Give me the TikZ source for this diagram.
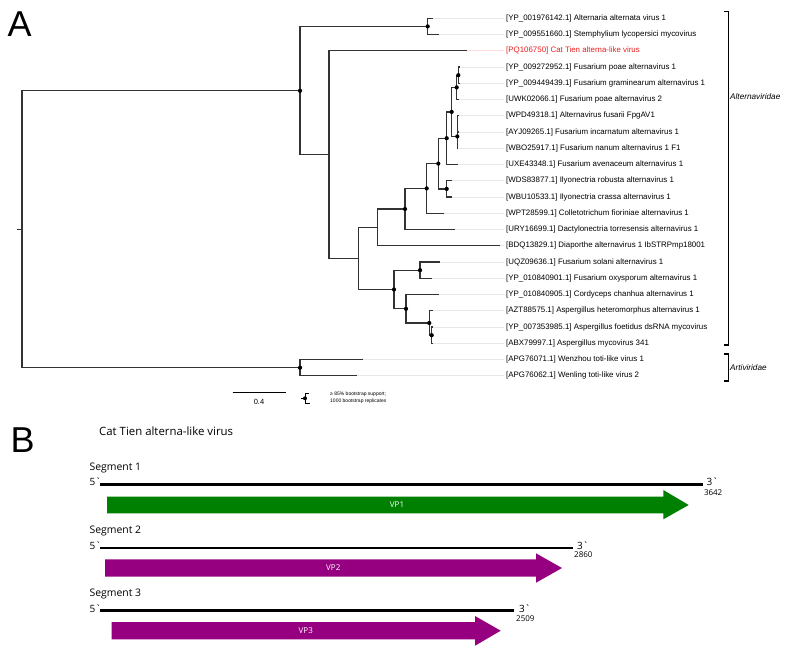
\documentclass[tikz,border=0pt]{standalone}
\usepackage{fontspec}
\setmainfont{Liberation Sans}
\newfontfamily\osans{Open Sans}
\definecolor{vpgreen}{RGB}{0,128,0}
\definecolor{vppurple}{RGB}{150,0,128}
\definecolor{labred}{RGB}{235,30,30}
\begin{document}
\begin{tikzpicture}[x=1pt,y=-1pt,
  br/.style={draw=black!80, line width=1.2pt},
  lead/.style={draw=black!9, line width=0.8pt, shorten >=2.5pt},
  lab/.style={anchor=west, inner sep=0pt, font=\fontsize{7.9}{9}\selectfont},
  bdot/.style={fill=black},
  segline/.style={draw=black, line width=2.7pt},
  seglab/.style={anchor=west, inner sep=0pt, font=\osans\fontsize{10.4}{12}\selectfont},
  endlab/.style={anchor=west, inner sep=0pt, font=\osans\fontsize{10}{12}\selectfont},
  numlab/.style={anchor=west, inner sep=0pt, font=\osans\fontsize{8}{10}\selectfont},
  vplab/.style={inner sep=0pt, text=white, font=\osans\fontsize{8}{10}\selectfont},
  famlab/.style={anchor=west, inner sep=0pt, font=\itshape\fontsize{8.2}{10}\selectfont},
  panel/.style={anchor=north west, inner sep=0pt, font=\fontsize{36}{40}\selectfont},
]
\useasboundingbox (0,0) rectangle (787,653);

% ---------- panel letters ----------
\node[panel] (pA) at (7.5,11.7) {A};
\node[panel] (pB) at (10.5,427.3) {B};

% ---------- tips ----------
\coordinate (t1) at (433,18.3);
\coordinate (t2) at (439,34.55);
\coordinate (t3) at (466.7,50.8);
\coordinate (t4) at (459.5,67.05);
\coordinate (t5) at (459.5,83.3);
\coordinate (t6) at (459.3,99.55);
\coordinate (t7) at (458,115.8);
\coordinate (t8) at (458,132.05);
\coordinate (t9) at (458,148.3);
\coordinate (t10) at (458.3,164.55);
\coordinate (t11) at (451.7,180.8);
\coordinate (t12) at (451.7,197.05);
\coordinate (t13) at (444,213.3);
\coordinate (t14) at (455,229.55);
\coordinate (t15) at (500,245.8);
\coordinate (t16) at (440,262.05);
\coordinate (t17) at (431.7,278.3);
\coordinate (t18) at (439,294.55);
\coordinate (t19) at (433,310.8);
\coordinate (t20) at (432.5,327.05);
\coordinate (t21) at (432.5,343.3);
\coordinate (t22) at (362.7,359.55);
\coordinate (t23) at (356.7,375.8);

% ---------- internal nodes ----------
\coordinate (root) at (22,229.2);
\coordinate (rstub) at (17,229.2);
\coordinate (nA) at (300,90.8);
\coordinate (nApg) at (300,367.7);
\coordinate (nB) at (427.7,26.4);
\coordinate (nC) at (329,154.6);
\coordinate (nD) at (358.7,258.4);
\coordinate (nE) at (377.7,227.4);
\coordinate (nG) at (405,209);
\coordinate (na) at (426.7,188.4);
\coordinate (nb) at (438.3,163.6);
\coordinate (nc) at (446.7,138.2);
\coordinate (nd) at (446.7,188.9);
\coordinate (ne) at (451.7,111.9);
\coordinate (nf) at (456.7,87.4);
\coordinate (ng) at (457.3,136.4);
\coordinate (ngi) at (457.5,124.2);
\coordinate (nh) at (458.3,75.2);
\coordinate (nF) at (394,289.5);
\coordinate (nH) at (420,270.2);
\coordinate (nI) at (406,308.8);
\coordinate (nJ) at (429.3,323);
\coordinate (nK) at (431.7,335.2);

% ---------- labels ----------
\foreach \i/\t in {
 1/{[YP\_001976142.1] Alternaria alternata virus 1},
 2/{[YP\_009551660.1] Stemphylium lycopersici mycovirus},
 4/{[YP\_009272952.1] Fusarium poae alternavirus 1},
 5/{[YP\_009449439.1] Fusarium graminearum alternavirus 1},
 6/{[UWK02066.1] Fusarium poae alternavirus 2},
 7/{[WPD49318.1] Alternavirus fusarii FpgAV1},
 8/{[AYJ09265.1] Fusarium incarnatum alternavirus 1},
 9/{[WBO25917.1] Fusarium nanum alternavirus 1 F1},
 10/{[UXE43348.1] Fusarium avenaceum alternavirus 1},
 11/{[WDS83877.1] Ilyonectria robusta alternavirus 1},
 12/{[WBU10533.1] Ilyonectria crassa alternavirus 1},
 13/{[WPT28599.1] Colletotrichum fioriniae alternavirus 1},
 14/{[URY16699.1] Dactylonectria torresensis alternavirus 1},
 15/{[BDQ13829.1] Diaporthe alternavirus 1 IbSTRPmp18001},
 16/{[UQZ09636.1] Fusarium solani alternavirus 1},
 17/{[YP\_010840901.1] Fusarium oxysporum alternavirus 1},
 18/{[YP\_010840905.1] Cordyceps chanhua alternavirus 1},
 19/{[AZT88575.1] Aspergillus heteromorphus alternavirus 1},
 20/{[YP\_007353985.1] Aspergillus foetidus dsRNA mycovirus},
 21/{[ABX79997.1] Aspergillus mycovirus 341},
 22/{[APG76071.1] Wenzhou toti-like virus 1},
 23/{[APG76062.1] Wenling toti-like virus 2}}
{
 \path (t\i) -- ++(0,0) coordinate (tmp);
 \node[lab] (l\i) at (506,0 |- tmp) {\t};
 \draw[lead] (t\i) -- (l\i.west);
}
\node[lab, text=labred] (l3) at (506,0 |- t3) {[PQ106750] Cat Tien alterna-like virus};
\draw[lead, draw=red!14] (t3) -- (l3.west);

% ---------- branches ----------
\draw[br] (root) -- (rstub);
\foreach \p/\c in {root/nA, root/nApg, nA/nB, nA/nC, nB/t1, nB/t2,
  nC/t3, nC/nD, nD/nE, nD/nF, nE/nG, nE/t15, nG/na, nG/t14,
  na/nb, na/t13, nb/nc, nb/nd, nd/t11, nd/t12, nc/ne, nc/t10,
  ne/nf, ne/ng, ng/ngi, ng/t9, ngi/t7, ngi/t8, nf/nh, nf/t6, nh/t4, nh/t5,
  nF/nH, nF/nI, nH/t16, nH/t17, nI/t18, nI/nJ, nJ/t19, nJ/nK, nK/t20, nK/t21,
  nApg/t22, nApg/t23}
  \draw[br] (\p) |- (\c);

\foreach \n in {nA, nApg, nB, nG, na, nb, nc, nd, ne, nf, ng, nh, nF, nH, nI, nJ, nK}
  \fill[bdot] (\n) circle[radius=2.1];

% ---------- family brackets ----------
\coordinate (b1t) at (728.3,11.7);
\coordinate (b1b) at (728.3,345);
\draw[line width=1.1pt] (724,11.7) -- (b1t) -- (b1b) -- (724,345);
\node[famlab] (fam1) at (730,96.5) {Alternaviridae};
\coordinate (b2t) at (728.3,354);
\coordinate (b2b) at (728.3,381);
\draw[line width=1.1pt] (724,354) -- (b2t) -- (b2b) -- (724,381);
\node[famlab] (fam2) at (730,367.5) {Artiviridae};

% ---------- scale bar and legend ----------
\coordinate (sb1) at (232.7,392.7);
\coordinate (sb2) at (285.7,392.7);
\draw[br, draw=black] (sb1) -- (sb2);
\node[inner sep=0pt, font=\fontsize{7.5}{9}\selectfont] (sbl) at (259,402.3) {0.4};
\coordinate (lg) at (305,398.3);
\draw[line width=1pt] (301,398.3) -- (lg);
\draw[line width=1pt] (308.5,393.3) -- (305,393.3) -- (305,403.3) -- (310,403.3);
\fill (lg) circle[radius=2];
\node[anchor=west, inner sep=0pt, font=\fontsize{5}{6}\selectfont] (lgt1) at (330,394.3) {≥ 85\% bootstrap support;};
\node[anchor=west, inner sep=0pt, font=\fontsize{5}{6}\selectfont] (lgt2) at (330,401.7) {1000 bootstrap replicates};

% ---------- panel B ----------
\node[anchor=west, inner sep=0pt, font=\osans\fontsize{11.4}{13}\selectfont] (title) at (99,431.7) {Cat Tien alterna-like virus};

% segment 1
\node[seglab] (sg1) at (89.5,468.3) {Segment 1};
\node[endlab] (f1) at (89.5,481.7) {5\symbol{96}};
\coordinate (s1a) at (99.5,484.5);
\coordinate (s1b) at (702.7,484.5);
\draw[segline] (s1a) -- (s1b);
\node[endlab] (e1) at (706.5,482.2) {3\symbol{96}};
\node[numlab] (n1) at (703.8,492.3) {3642};
\fill[vpgreen] (107,496.7) -- (663.3,496.7) -- (663.3,490) -- (688.7,505) -- (663.3,519.3) -- (663.3,513.3) -- (107,513.3) -- cycle;
\node[vplab] (vp1) at (397,505) {VP1};

% segment 2
\node[seglab] (sg2) at (89.5,531) {Segment 2};
\node[endlab] (f2) at (89.5,545.5) {5\symbol{96}};
\coordinate (s2a) at (99.5,548);
\coordinate (s2b) at (572.7,548);
\draw[segline] (s2a) -- (s2b);
\node[endlab] (e2) at (577,545.7) {3\symbol{96}};
\node[numlab] (n2) at (574,555) {2860};
\fill[vppurple] (105,559.3) -- (536,559.3) -- (536,553.3) -- (562,568) -- (536,582.7) -- (536,576.7) -- (105,576.7) -- cycle;
\node[vplab] (vp2) at (333.3,568) {VP2};

% segment 3
\node[seglab] (sg3) at (89.5,594) {Segment 3};
\node[endlab] (f3) at (89.5,608.3) {5\symbol{96}};
\coordinate (s3a) at (99.5,610.7);
\coordinate (s3b) at (514.3,610.7);
\draw[segline] (s3a) -- (s3b);
\node[endlab] (e3) at (519,608.3) {3\symbol{96}};
\node[numlab] (n3) at (516,618.3) {2509};
\fill[vppurple] (111.7,622) -- (475,622) -- (475,616) -- (500.7,630.7) -- (475,645.7) -- (475,639.3) -- (111.7,639.3) -- cycle;
\node[vplab] (vp3) at (305.8,630.7) {VP3};
\end{tikzpicture}
\end{document}
